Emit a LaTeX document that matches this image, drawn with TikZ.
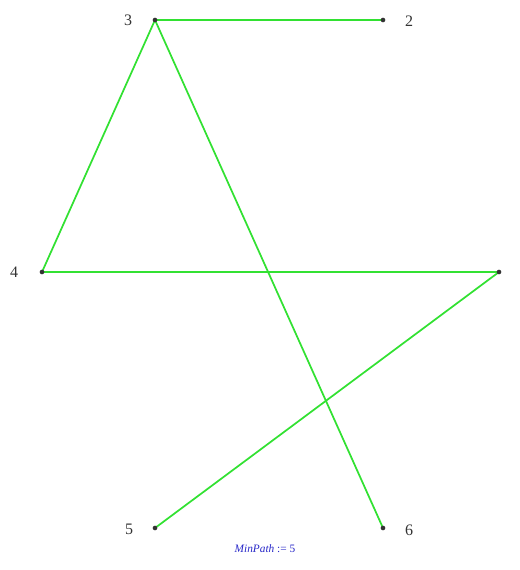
\documentclass[tikz,border=0pt]{standalone}
\usepackage{fontspec}
\setmainfont{Liberation Serif}
\definecolor{edgegreen}{RGB}{50,225,50}
\definecolor{mpblue}{RGB}{40,40,200}
\begin{document}
\begin{tikzpicture}[x=0.75pt,y=-0.75pt,
  vert/.style={circle,fill=black!80,inner sep=0pt,minimum size=3.5pt},
  lbl/.style={font=\fontsize{12}{14}\selectfont,text=black!80,inner sep=0pt},
  edge/.style={draw=edgegreen,line width=1.3pt}]
\useasboundingbox (0,0) rectangle (519,570);
\coordinate (c3) at (155,20);
\coordinate (c2) at (383,20);
\coordinate (c4) at (42,272);
\coordinate (c1) at (499,272);
\coordinate (c5) at (155,528);
\coordinate (c6) at (383,528);
\draw[edge] (c3) -- (c2);
\draw[edge] (c3) -- (c4);
\draw[edge] (c3) -- (c6);
\draw[edge] (c4) -- (c1);
\draw[edge] (c1) -- (c5);
\node[vert] (n3) at (c3) {};
\node[vert] (n2) at (c2) {};
\node[vert] (n4) at (c4) {};
\node[vert] (n1) at (c1) {};
\node[vert] (n5) at (c5) {};
\node[vert] (n6) at (c6) {};
\node[lbl] (l3) at (128,20) {3};
\node[lbl] (l2) at (409,21) {2};
\node[lbl] (l4) at (14,272) {4};
\node[lbl] (l5) at (129,529) {5};
\node[lbl] (l6) at (409,530) {6};
\node[text=mpblue,font=\fontsize{8.5}{10}\selectfont,inner sep=0pt] (mp) at (265,549) {\textit{MinPath} := 5};
\end{tikzpicture}
\end{document}
